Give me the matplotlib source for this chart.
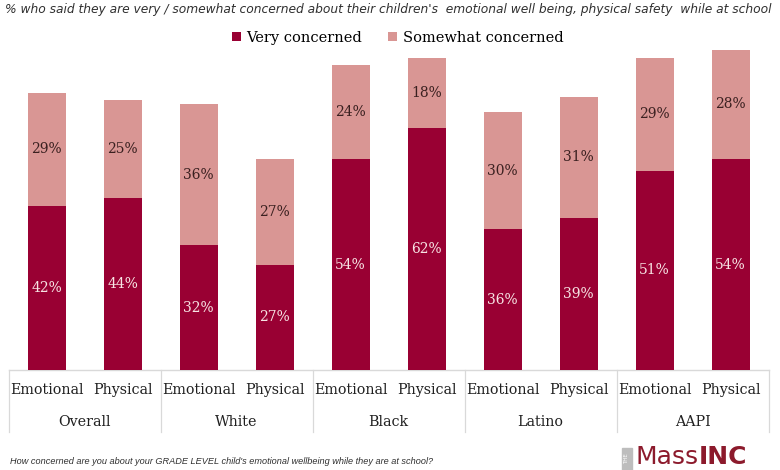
import matplotlib
matplotlib.use("Agg")
import matplotlib.pyplot as plt
from matplotlib.patches import Rectangle

groups = ["Overall", "White", "Black", "Latino", "AAPI"]
subcats = ["Emotional", "Physical"]
very = [42, 44, 32, 27, 54, 62, 36, 39, 51, 54]
somewhat = [29, 25, 36, 27, 24, 18, 30, 31, 29, 28]

title = ("% who said they are very / somewhat concerned about their children's  "
         "emotional well being, physical safety  while at school")
footnote = ("How concerned are you about your GRADE LEVEL child's emotional "
            "wellbeing while they are at school?")

C_VERY = "#990033"
C_SOME = "#D99694"
SERIF = ["DejaVu Serif"]
W, H = 780, 470

fig = plt.figure(figsize=(7.8, 4.7), dpi=100)
ax = fig.add_axes([8.5 / W, 1 - 370 / H, 760 / W, 332 / H])

n = len(very)
xs = list(range(n))
b1 = ax.bar(xs, very, width=0.5, color=C_VERY, label="Very concerned", zorder=3)
b2 = ax.bar(xs, somewhat, width=0.5, bottom=very, color=C_SOME,
            label="Somewhat concerned", zorder=3)

for x, v, s in zip(xs, very, somewhat):
    ax.text(x, v / 2, f"{v}%", ha="center", va="center", color="#F7E4E4",
            fontsize=10, family=SERIF, zorder=4)
    ax.text(x, v + s / 2, f"{s}%", ha="center", va="center", color="#3A2020",
            fontsize=10, family=SERIF, zorder=4)

ax.set_xlim(-0.5, n - 0.5)
ax.set_ylim(0, 85)
ax.set_yticks([])
ax.set_xticks([])
for sp in ["top", "right", "left"]:
    ax.spines[sp].set_visible(False)
ax.spines["bottom"].set_color("#D9D9D9")
ax.spines["bottom"].set_linewidth(1.0)

tr = ax.get_xaxis_transform()
px = 1 / 332.0
for i in range(n):
    ax.text(i, -20 * px, subcats[i % 2], transform=tr, ha="center", va="center",
            fontsize=10.3, family=SERIF, color="#202020")
for g, name in enumerate(groups):
    ax.text(2 * g + 0.5, -52 * px, name, transform=tr, ha="center", va="center",
            fontsize=10.3, family=SERIF, color="#202020")
for b in range(len(groups) + 1):
    xb = 2 * b - 0.5
    ax.plot([xb, xb], [0, -62 * px], transform=tr, color="#D9D9D9", lw=0.9,
            clip_on=False)

fig.text(5 / W, 1 - 10 / H, title, ha="left", va="center", fontsize=8.8,
         style="italic", family=["DejaVu Sans"], color="#303030")

fig.legend(handles=[b1, b2], labels=["Very concerned", "Somewhat concerned"],
           loc="center", bbox_to_anchor=(0.51, 1 - 38 / H), ncol=2, frameon=False,
           prop={"family": SERIF, "size": 10.5}, handlelength=0.6,
           handleheight=0.6, handletextpad=0.4, columnspacing=1.8)

fig.text(10 / W, 1 - 462 / H, footnote, ha="left", va="center", fontsize=6.6,
         style="italic", family=["Liberation Sans", "DejaVu Sans"],
         color="#303030")

# MassINC logo (text-based)
fig.patches.append(Rectangle((622 / W, 0), 10 / W, 22 / H, transform=fig.transFigure,
                             color="#BDBDBD", zorder=1))
fig.text(627 / W, 11 / H, "THE", rotation=90, ha="center", va="center",
         fontsize=4, color="white")
fig.text(636 / W, 1 / H, "Mass", ha="left", va="bottom", fontsize=18,
         color="#8C1A2C")
fig.text(699 / W, 1 / H, "INC", ha="left", va="bottom", fontsize=18,
         weight="bold", color="#8C1A2C")

fig.savefig("out.png", dpi=100)
